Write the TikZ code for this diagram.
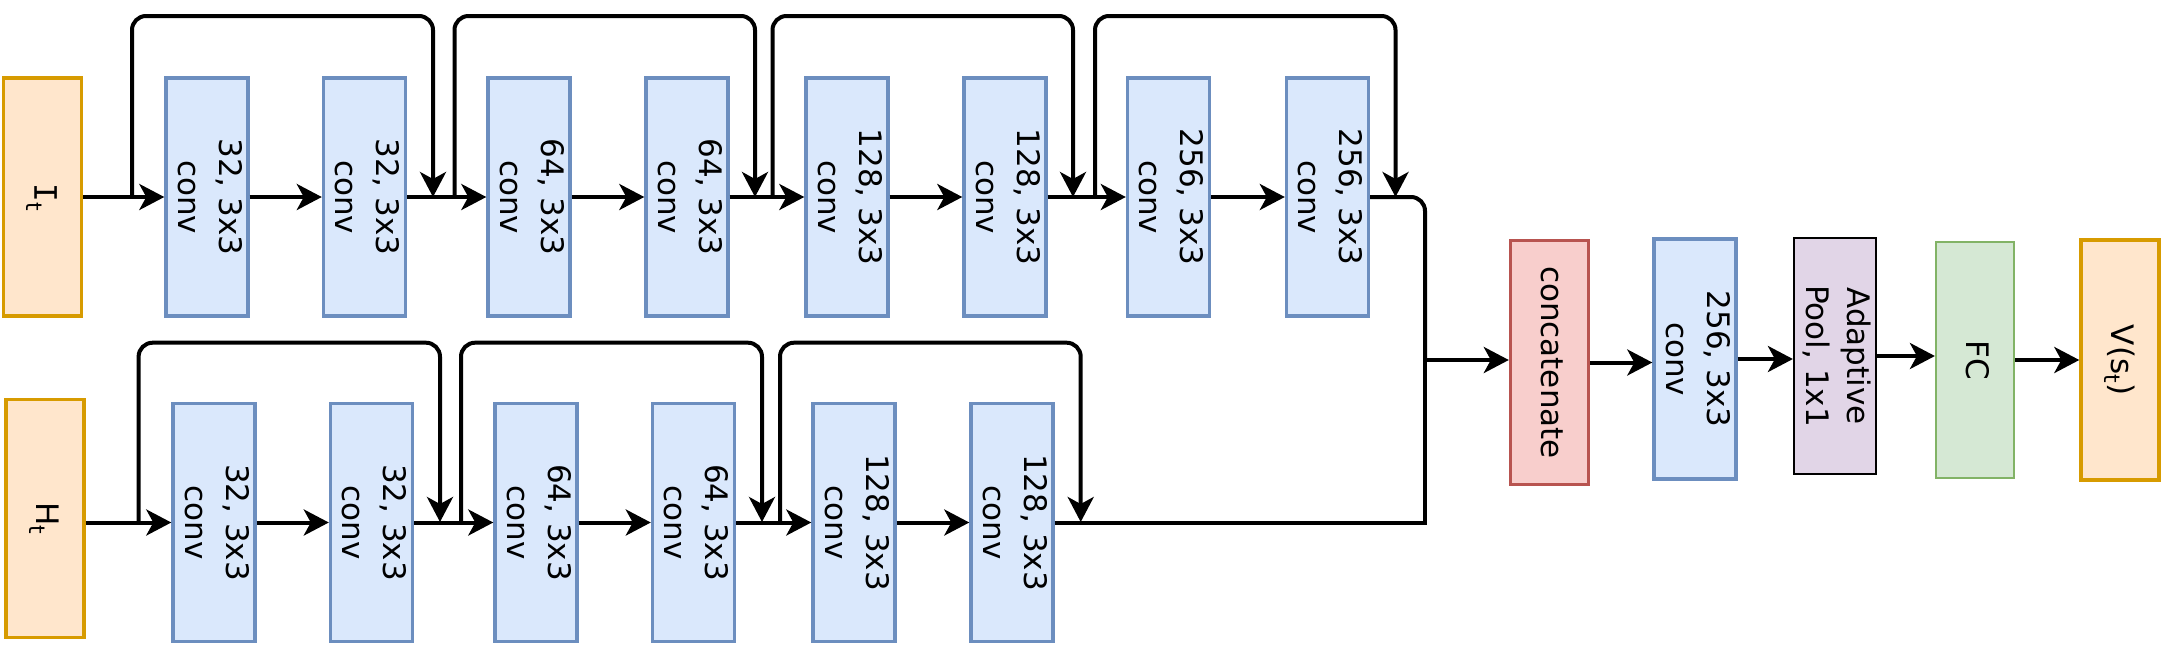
\documentclass[tikz,border=0pt]{standalone}
\usepackage{fontspec}
\setmainfont{DejaVu Sans}
\newfontfamily\monofont{DejaVu Sans Mono}
\usepackage{graphicx}
\usepackage{tikz}
\usetikzlibrary{arrows.meta}
\definecolor{convfill}{HTML}{DAE8FC}
\definecolor{convline}{HTML}{6C8EBF}
\definecolor{infill}{HTML}{FFE6CC}
\definecolor{inline}{HTML}{D79B00}
\definecolor{catfill}{HTML}{F8CECC}
\definecolor{catline}{HTML}{B85450}
\definecolor{poolfill}{HTML}{E1D5E7}
\definecolor{fcfill}{HTML}{D5E8D4}
\definecolor{fcline}{HTML}{82B366}
\tikzstyle{box} = [draw,line width=1.7pt,minimum width=39pt,minimum height=119pt,inner sep=0pt]
\tikzstyle{conv} = [box,draw=convline,fill=convfill]
\tikzstyle{inp} = [box,draw=inline,fill=infill]
\tikzstyle{link} = [line width=2pt]
\newcommand{\vtxt}[1]{\rotatebox{-90}{\begin{tabular}{@{}c@{}}#1\end{tabular}}}
\newcommand{\subt}{\raisebox{-0.45ex}{\fontsize{11}{11}\selectfont t}}

\begin{document}
\begin{tikzpicture}[x=0.5pt,y=-0.5pt,font=\fontsize{15.5}{20.5}\selectfont,
  post/.style={link,-{Stealth[length=12.5pt,width=13pt,inset=3.5pt]}}]
    \useasboundingbox (0,0) rectangle (2162,644);

    % image branch
    \node[inp] (it) at (42.5,197) {\vtxt{{\monofont I}\subt}};
    \node[conv] (a1) at (207,197) {\vtxt{32, 3x3\\conv}};
    \node[conv] (a2) at (364.5,197) {\vtxt{32, 3x3\\conv}};
    \node[conv] (a3) at (529,197) {\vtxt{64, 3x3\\conv}};
    \node[conv] (a4) at (687,197) {\vtxt{64, 3x3\\conv}};
    \node[conv] (a5) at (847,197) {\vtxt{128, 3x3\\conv}};
    \node[conv] (a6) at (1005,197) {\vtxt{128, 3x3\\conv}};
    \node[conv] (a7) at (1168.5,197) {\vtxt{256, 3x3\\conv}};
    \node[conv] (a8) at (1327.5,197) {\vtxt{256, 3x3\\conv}};

    % history branch
    \node[inp] (ht) at (45,518.5) {\vtxt{H\subt}};
    \node[conv] (b1) at (214,522.5) {\vtxt{32, 3x3\\conv}};
    \node[conv] (b2) at (371.5,522.5) {\vtxt{32, 3x3\\conv}};
    \node[conv] (b3) at (536,522.5) {\vtxt{64, 3x3\\conv}};
    \node[conv] (b4) at (693.5,522.5) {\vtxt{64, 3x3\\conv}};
    \node[conv] (b5) at (854,522.5) {\vtxt{128, 3x3\\conv}};
    \node[conv] (b6) at (1012,522.5) {\vtxt{128, 3x3\\conv}};

    % head
    \node[box,draw=catline,fill=catfill,minimum height=122pt] (cat) at (1549.5,362.5) {\vtxt{concatenate}};
    \node[conv,minimum height=120pt] (a9) at (1695,359) {\vtxt{256, 3x3\\conv}};
    \node[box,line width=1.1pt,fill=poolfill,minimum height=118pt] (pool) at (1835,356) {\vtxt{Adaptive\\Pool, 1x1}};
    \node[box,line width=1.1pt,draw=fcline,fill=fcfill,minimum height=118pt] (fc) at (1975,360) {\vtxt{FC}};
    \node[inp,minimum height=120pt] (val) at (2120,360) {\vtxt{V(s\subt)}};

    \coordinate (sa1) at (132,197);   \coordinate (ea1) at (433,197);
    \coordinate (sa2) at (454.5,197); \coordinate (ea2) at (755,197);
    \coordinate (sa3) at (772.5,197); \coordinate (ea3) at (1073,197);
    \coordinate (sa4) at (1095,197);  \coordinate (ea4) at (1395.5,197);
    \coordinate (sb1) at (138.6,522); \coordinate (eb1) at (440,522);
    \coordinate (sb2) at (461,522);   \coordinate (eb2) at (762,522);
    \coordinate (sb3) at (780,522);   \coordinate (eb3) at (1080.7,522);
    \coordinate (mrg) at (1425,360);

    \draw[post] (it) -- (a1);
    \draw[post] (a1) -- (a2);
    \draw[post] (a2) -- (a3);
    \draw[post] (a3) -- (a4);
    \draw[post] (a4) -- (a5);
    \draw[post] (a5) -- (a6);
    \draw[post] (a6) -- (a7);
    \draw[post] (a7) -- (a8);

    \draw[post] (ht.east |- b1) -- (b1);
    \draw[post] (b1) -- (b2);
    \draw[post] (b2) -- (b3);
    \draw[post] (b3) -- (b4);
    \draw[post] (b4) -- (b5);
    \draw[post] (b5) -- (b6);

    \draw[post,rounded corners=7pt] (sa1) -- ++(0,-181) -| (ea1);
    \draw[post,rounded corners=7pt] (sa2) -- ++(0,-181) -| (ea2);
    \draw[post,rounded corners=7pt] (sa3) -- ++(0,-181) -| (ea3);
    \draw[post,rounded corners=7pt] (sa4) -- ++(0,-181) -| (ea4);
    \draw[post,rounded corners=7pt] (sb1) -- ++(0,-179.3) -| (eb1);
    \draw[post,rounded corners=7pt] (sb2) -- ++(0,-179.3) -| (eb2);
    \draw[post,rounded corners=7pt] (sb3) -- ++(0,-179.3) -| (eb3);

    \draw[link,rounded corners=7pt] (a8) -| (mrg);
    \draw[link] (b6.east |- b6) -| (mrg);
    \draw[post] (mrg) -- (mrg -| cat.west);
    \draw[post] (cat.east) -- (cat.east -| a9.west);
    \draw[post] (a9.east) -- (a9.east -| pool.west);
    \draw[post] (pool.east) -- (pool.east -| fc.west);
    \draw[post] (fc.east) -- (fc.east -| val.west);

\end{tikzpicture}
\end{document}
